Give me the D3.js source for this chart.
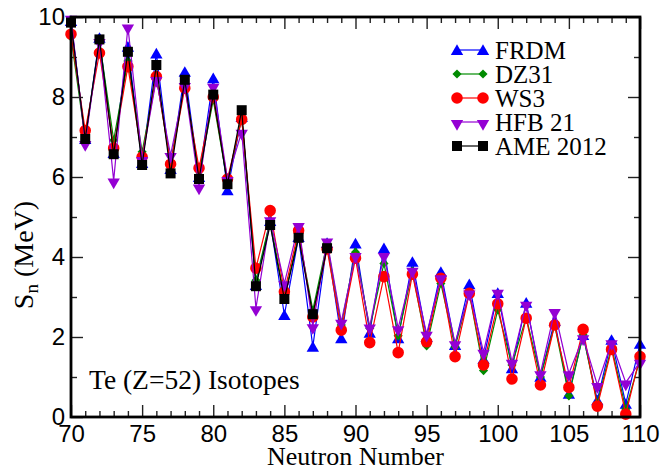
<!DOCTYPE html>
<html>
<head>
<meta charset="utf-8">
<script src="https://cdn.jsdelivr.net/npm/d3@7"></script>
<style>
body { margin: 0; background: #fff; }
</style>
</head>
<body>
<script>

// neutron numbers
var neutrons = d3.range(70, 111);
var ameNeutrons = d3.range(70, 89);

var frdm = [9.9, 6.95, 9.48, 6.6, 9.26, 6.35, 9.09, 6.2, 8.63, 6.0, 8.47, 5.67, 7.5, 3.3, 4.9, 2.55, 4.5, 1.76, 4.35, 1.97,
  4.34, 2.11, 4.22, 1.97, 3.88, 2.0, 3.63, 1.8, 3.32, 1.45, 3.1, 1.22, 2.86, 1.01, 2.4, 0.58, 2.05, 0.42, 1.93, 0.33, 1.83];
var dz31 = [9.5, 6.95, 9.4, 6.92, 8.9, 6.63, 8.5, 6.35, 8.35, 6.05, 7.93, 5.85, 7.5, 3.42, 4.9, 3.0, 4.55, 2.67, 4.35, 2.3,
  4.12, 2.22, 3.84, 2.03, 3.65, 1.78, 3.34, 1.75, 3.1, 1.16, 2.68, 1.3, 2.5, 1.0, 2.3, 0.53, 2.05, 0.35, 1.75, 0.2, 1.45];
var ws3 = [9.57, 7.16, 9.1, 6.72, 8.76, 6.5, 8.51, 6.32, 8.22, 6.22, 8.0, 5.95, 7.44, 3.72, 5.16, 3.13, 4.66, 2.5, 4.2, 2.17,
  3.97, 1.86, 3.51, 1.61, 3.57, 1.88, 3.47, 1.51, 3.09, 1.3, 2.83, 0.95, 2.47, 0.8, 2.3, 0.74, 2.19, 0.27, 1.69, 0.07, 1.51];
var hfb21 = [9.98, 6.85, 9.4, 5.91, 9.76, 6.45, 8.45, 6.55, 8.3, 5.76, 8.28, 5.95, 7.13, 2.72, 4.94, 3.34, 4.8, 2.27, 4.41, 2.38,
  4.05, 2.26, 4.05, 2.22, 3.68, 2.08, 3.49, 1.84, 3.11, 1.63, 3.13, 1.38, 2.83, 1.09, 2.65, 1.09, 1.99, 0.8, 1.87, 0.86, 1.38];
var ame2012 = [9.86, 6.95, 9.44, 6.57, 9.13, 6.3, 8.8, 6.09, 8.43, 5.95, 8.06, 5.82, 7.67, 3.27, 4.8, 2.95, 4.48, 2.57, 4.22];

var xMajor = [70, 75, 80, 85, 90, 95, 100, 105, 110];
var yMajor = [0, 2, 4, 6, 8, 10];

var svgWidth = 661;
var svgHeight = 470;
var margin = { top: 17, right: 21, bottom: 53, left: 71 };
var width = svgWidth - margin.left - margin.right;
var height = svgHeight - margin.top - margin.bottom;

var svg = d3.select("body").append("svg")
  .attr("width", svgWidth)
  .attr("height", svgHeight);

var chartGroup = svg.append("g")
  .attr("transform", `translate(${margin.left}, ${margin.top})`);

var xScale = d3.scaleLinear().domain([70, 110]).range([0, width]);
var yScale = d3.scaleLinear().domain([0, 10]).range([height, 0]);

// ticks, all pointing inward
function tickAxis(axis, values, size, labels, pad) {
  return axis.tickValues(values).tickSizeInner(-size).tickSizeOuter(0)
    .tickPadding(labels ? pad : 0)
    .tickFormat(labels ? d3.format("d") : "");
}

var makers = [
  [() => d3.axisBottom(xScale), `translate(0,${height})`, true, true, 8],
  [() => d3.axisTop(xScale), "translate(0,0)", true, false, 0],
  [() => d3.axisLeft(yScale), "translate(0,0)", false, true, 6],
  [() => d3.axisRight(yScale), `translate(${width},0)`, false, false, 0]
];

makers.forEach(function(a) {
  var isX = a[2];
  var minor = isX ? d3.range(70, 111) : d3.range(0, 11);
  var major = isX ? xMajor : yMajor;
  chartGroup.append("g").attr("transform", a[1])
    .call(tickAxis(a[0](), minor.filter(v => major.indexOf(v) < 0), 6, false, 0));
  chartGroup.append("g").attr("transform", a[1])
    .call(tickAxis(a[0](), major, 12, a[3], a[4]));
});

chartGroup.selectAll(".domain").remove();
chartGroup.selectAll(".tick line").attr("stroke", "#222").attr("stroke-width", 1.4);
chartGroup.selectAll(".tick text")
  .style("font-family", "'Liberation Sans', Arial, sans-serif")
  .style("font-size", "24px")
  .attr("fill", "#000");

// series
var series = [
  { name: "FRDM", values: frdm, xs: neutrons, color: "#0000ff", shape: "up" },
  { name: "DZ31", values: dz31, xs: neutrons, color: "#008b00", shape: "diamond" },
  { name: "WS3", values: ws3, xs: neutrons, color: "#ff0000", shape: "circle" },
  { name: "HFB 21", values: hfb21, xs: neutrons, color: "#9400d3", shape: "down" },
  { name: "AME 2012", values: ame2012, xs: ameNeutrons, color: "#000000", shape: "square" }
];

function symbolPath(shape) {
  if (shape == "up" || shape == "down") return d3.symbol().type(d3.symbolTriangle).size(66)();
  if (shape == "circle") return d3.symbol().type(d3.symbolCircle).size(105)();
  if (shape == "diamond") return d3.symbol().type(d3.symbolSquare).size(42)();
  return d3.symbol().type(d3.symbolSquare).size(100)();
}
function symbolRotate(shape) {
  if (shape == "down") return " rotate(180) translate(0,-1.5)";
  if (shape == "up") return " translate(0,1.5)";
  if (shape == "diamond") return " rotate(45)";
  return "";
}

var line = d3.line().x(d => xScale(d[0])).y(d => yScale(d[1]));

series.forEach(function(s) {
  var pts = s.xs.map((n, i) => [n, s.values[i]]);
  var g = chartGroup.append("g");
  g.append("path")
    .attr("d", line(pts))
    .attr("fill", "none")
    .attr("stroke", s.color)
    .attr("stroke-width", 1.2);
  g.selectAll("path.pt")
    .data(pts)
    .enter()
    .append("path")
    .attr("class", "pt")
    .attr("d", symbolPath(s.shape))
    .attr("transform", d => `translate(${xScale(d[0])},${yScale(d[1])})` + symbolRotate(s.shape))
    .attr("fill", s.color);
});

// frame
chartGroup.append("rect")
  .attr("x", 0).attr("y", 0)
  .attr("width", width).attr("height", height)
  .attr("fill", "none")
  .attr("stroke", "#000")
  .attr("stroke-width", 2.8);

// legend
var legend = chartGroup.append("g").attr("transform", `translate(${457 - margin.left}, ${50 - margin.top})`);
series.forEach(function(s, i) {
  var row = legend.append("g").attr("transform", `translate(0, ${i * 24})`);
  row.append("line").attr("x1", 0).attr("x2", 26).attr("y1", 0).attr("y2", 0)
    .attr("stroke", s.color).attr("stroke-width", 1.2);
  [0, 26].forEach(function(x) {
    row.append("path").attr("d", symbolPath(s.shape))
      .attr("transform", `translate(${x},0)` + symbolRotate(s.shape))
      .attr("fill", s.color);
  });
  row.append("text")
    .attr("x", 38).attr("y", 9)
    .style("font-family", "'Liberation Serif', 'Times New Roman', serif")
    .style("font-size", "25px")
    .text(s.name);
});

// annotation
chartGroup.append("text")
  .attr("x", 89 - margin.left).attr("y", 389 - margin.top)
  .style("font-family", "'Liberation Serif', 'Times New Roman', serif")
  .style("font-size", "27.5px")
  .text("Te (Z=52) Isotopes");

// axis labels
svg.append("text")
  .attr("x", margin.left + width / 2).attr("y", 465)
  .attr("text-anchor", "middle")
  .style("font-family", "'Liberation Serif', 'Times New Roman', serif")
  .style("font-size", "26px")
  .text("Neutron Number");

var ylab = svg.append("text")
  .attr("transform", "translate(33, 255) rotate(-90)")
  .attr("text-anchor", "middle")
  .style("font-family", "'Liberation Serif', 'Times New Roman', serif")
  .style("font-size", "28px");
ylab.append("tspan").text("S");
ylab.append("tspan").attr("dy", 5).style("font-size", "19px").text("n");
ylab.append("tspan").attr("dy", -5).text(" (MeV)");

</script>
</body>
</html>
